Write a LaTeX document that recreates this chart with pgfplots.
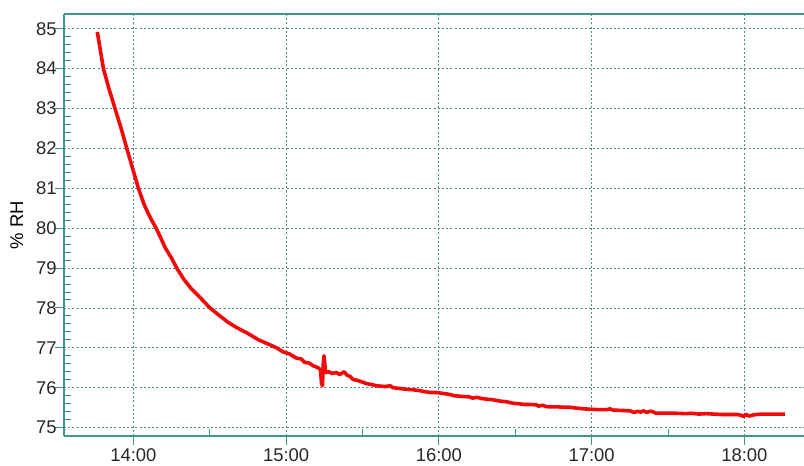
\documentclass[border=0pt]{standalone}
\usepackage{fontspec}
\setmainfont{Liberation Sans}
\usepackage{pgfplots}
\pgfplotsset{compat=1.18}
\definecolor{axiscol}{RGB}{60,150,140}
\definecolor{gridcol}{RGB}{80,135,135}
\definecolor{rhred}{RGB}{240,10,10}
\begin{document}
\fontsize{18.5}{21}\selectfont
\begin{tikzpicture}
\begin{axis}[
    scale only axis,
    width=740bp, height=422bp,
    xmin=13.546, xmax=18.39,
    ymin=74.79, ymax=85.37,
    axis x line*=bottom, axis y line*=left,
    axis line style={-, axiscol, line width=1.2bp},
    xtick={14,15,16,17,18},
    xticklabels={14:00,15:00,16:00,17:00,18:00},
    minor x tick num=1,
    ytick={75,76,...,85},
    minor y tick num=4,
    tick align=inside,
    major tick length=-9bp,
    minor tick length=7bp,
    tick style={axiscol, line width=1bp},
    grid=major,
    major grid style={gridcol, line width=0.9bp, dash pattern=on 2bp off 2.2bp},
    /pgf/number format/assume math mode=true,
    yticklabel style={xshift=-1bp, text=black!85},
    xticklabel style={yshift=-6bp, text=black!85},
    every axis y label/.style={at={(axis description cs:-0.0639,0.5)}, rotate=90, anchor=center},
    ylabel={\% RH},
    clip=false,
]
\addplot[rhred, line width=3.6bp, line join=round] coordinates {
(13.764,84.92) (13.78,84.55) (13.804,84.0) (13.84,83.5) (13.880,83.0)
(13.92,82.5) (13.957,82.0) (13.995,81.5) (14.033,81.0) (14.07,80.6)
(14.10,80.35) (14.120,80.2) (14.149,80.0) (14.18,79.75) (14.21,79.5)
(14.25,79.25) (14.284,79.0) (14.33,78.72) (14.38,78.48) (14.44,78.25)
(14.502,78.0) (14.56,77.82) (14.62,77.64) (14.68,77.5) (14.75,77.36)
(14.82,77.2) (14.88,77.1) (14.938,77.0) (14.98,76.9) (15.02,76.85)
(15.069,76.74) (15.10,76.72) (15.12,76.64) (15.15,76.62) (15.178,76.55)
(15.21,76.5) (15.225,76.45) (15.232,76.1) (15.238,76.05) (15.243,76.6)
(15.248,76.8) (15.253,76.6) (15.258,76.38) (15.28,76.40) (15.30,76.36)
(15.33,76.38) (15.35,76.33) (15.38,76.40) (15.397,76.32) (15.42,76.28)
(15.438,76.21) (15.47,76.18) (15.50,76.14) (15.53,76.10) (15.56,76.08)
(15.59,76.05) (15.615,76.04) (15.65,76.03) (15.68,76.05) (15.70,76.0)
(15.75,75.98) (15.789,75.96) (15.83,75.95) (15.87,75.93) (15.91,75.90)
(15.95,75.88) (15.986,75.88) (16.02,75.86) (16.06,75.84) (16.10,75.80)
(16.13,75.79) (16.160,75.78) (16.20,75.77) (16.22,75.74) (16.25,75.76)
(16.28,75.73) (16.32,75.71) (16.35,75.70) (16.378,75.68) (16.41,75.66)
(16.44,75.65) (16.487,75.61) (16.52,75.60) (16.56,75.58) (16.60,75.58)
(16.640,75.57) (16.65,75.54) (16.68,75.56) (16.70,75.53) (16.727,75.52)
(16.78,75.52) (16.82,75.51) (16.858,75.51) (16.90,75.49) (16.95,75.47)
(17.000,75.46) (17.05,75.45) (17.10,75.45) (17.12,75.47) (17.14,75.44)
(17.20,75.43) (17.251,75.42) (17.28,75.38) (17.30,75.41) (17.32,75.39)
(17.34,75.42) (17.36,75.38) (17.38,75.41) (17.40,75.40) (17.42,75.36)
(17.50,75.36) (17.55,75.36) (17.62,75.35) (17.65,75.36) (17.70,75.34)
(17.75,75.35) (17.796,75.34) (17.85,75.33) (17.90,75.33) (17.95,75.33)
(17.98,75.31) (17.992,75.28) (18.01,75.33) (18.03,75.29) (18.06,75.32)
(18.08,75.33) (18.123,75.34) (18.20,75.34) (18.265,75.34)
};
\draw[axiscol, line width=1.2bp] (rel axis cs:0,1) -- (rel axis cs:1,1);
\end{axis}
\pgfresetboundingbox
\path ([shift={(-64bp,-30bp)}]current axis.south west) rectangle ([shift={(0bp,14bp)}]current axis.north east);
\end{tikzpicture}
\end{document}
